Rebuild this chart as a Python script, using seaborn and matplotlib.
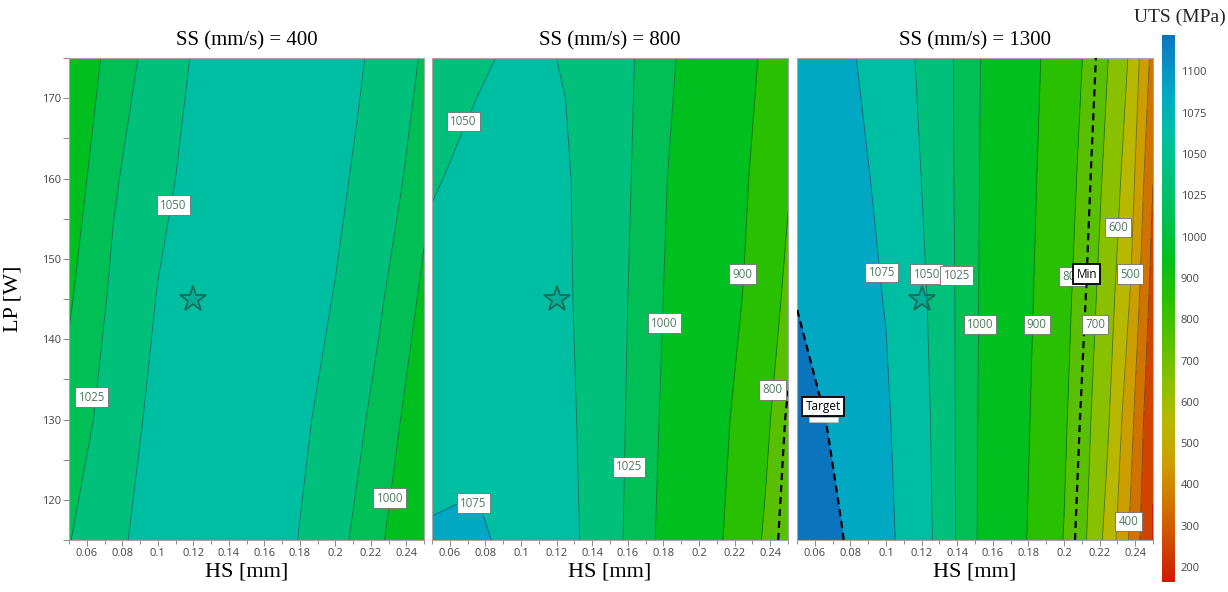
import numpy as np
import matplotlib
matplotlib.use("Agg")
import matplotlib.pyplot as plt
import matplotlib.colors as mcolors
from matplotlib.cm import ScalarMappable
from matplotlib.ticker import MultipleLocator, FormatStrFormatter, FixedLocator
from matplotlib.patches import Rectangle
import seaborn as sns

# ---------------------------------------------------------------- data
# hatch spacing HS [mm] (grid columns) and laser power LP [W] (grid rows)
hs = [0.05, 0.075, 0.1, 0.125, 0.15, 0.175, 0.2, 0.2125, 0.225, 0.2375, 0.25]
lp = [115, 130, 145, 160, 175]

scan_speeds = [400, 800, 1300]

# predicted UTS [MPa], one row per LP value
uts_ss400 = [
    [1024, 1045, 1060, 1066, 1063, 1053, 1033, 1020, 1004, 986, 967],
    [1009, 1038, 1056, 1065, 1065, 1058, 1041, 1030, 1017, 999, 980],
    [997, 1030, 1051, 1063, 1066, 1062, 1049, 1038, 1028, 1013, 994],
    [985, 1022, 1044, 1059, 1066, 1064, 1055, 1047, 1036, 1026, 1008],
    [975, 1010, 1037, 1055, 1065, 1066, 1060, 1053, 1044, 1034, 1022],
]
uts_ss800 = [
    [1077, 1078, 1069, 1057, 1035, 1001, 937, 904, 850, 788, 720],
    [1067, 1070, 1066, 1055, 1035, 1006, 948, 917, 874, 816, 740],
    [1058, 1062, 1060, 1053, 1035, 1010, 959, 929, 898, 840, 782],
    [1048, 1056, 1058, 1052, 1036, 1013, 968, 939, 911, 864, 807],
    [1038, 1047, 1054, 1049, 1036, 1016, 983, 950, 922, 888, 832],
]
uts_ss1300 = [
    [1117, 1101, 1081, 1052, 1004, 920, 797, 702, 561, 380, 185],
    [1111, 1094, 1078, 1050, 1005, 927, 813, 725, 606, 429, 206],
    [1099, 1087, 1074, 1048, 1006, 933, 827, 748, 641, 492, 256],
    [1097, 1086, 1069, 1045, 1007, 938, 840, 769, 671, 542, 302],
    [1092, 1081, 1063, 1043, 1008, 943, 853, 789, 699, 585, 364],
]

cbar_ticks = [200, 300, 400, 500, 600, 700, 800, 900, 1000, 1025, 1050, 1075, 1100]
uts_min_limit = 750      # "Min" constraint
uts_target = 1100        # "Target" value

# contour labels: (level, HS, LP)
labels_ss400 = [(1050, 0.1088, 156.7), (1025, 0.0628, 132.8), (1000, 0.2308, 120.2)]
labels_ss800 = [(1050, 0.0677, 167.1), (1075, 0.0733, 119.6), (1025, 0.1606, 124.1),
                (1000, 0.1804, 142.0), (900, 0.2245, 148.1), (800, 0.2414, 133.7)]
labels_ss1300 = [(1075, 0.0977, 148.3), (1050, 0.1229, 148.1), (1025, 0.1397, 147.9),
                 (1000, 0.1528, 141.8), (900, 0.1847, 141.8), (800, 0.2045, 147.8),
                 (700, 0.2174, 141.8), (600, 0.2305, 153.9), (500, 0.2371, 148.1),
                 (400, 0.2362, 117.3)]

star_point = (0.12, 145)

# ---------------------------------------------------------------- style
sns.set_theme(style="ticks")
plt.rcParams["font.family"] = ["Open Sans", "DejaVu Sans"]
SERIF = ["Liberation Serif", "DejaVu Serif"]

# piecewise-linear colour scale: equal room for each tick interval
knots = np.array([0, 200, 300, 400, 500, 600, 700, 800, 900, 1000,
                  1025, 1050, 1075, 1100, 1200], dtype=float)
slots = np.array([-2, 0, 1, 2, 3, 4, 5, 6, 7, 8, 9, 10, 11, 12, 16], dtype=float)


def fwd(x):
    return np.interp(np.asarray(x, dtype=float), knots, slots)


def inv(y):
    return np.interp(np.asarray(y, dtype=float), slots, knots)


VMIN, VMAX = 164, 1122
norm = mcolors.FuncNorm((fwd, inv), vmin=VMIN, vmax=VMAX)

anchor_vals = [VMIN, 175, 250, 350, 450, 550, 650, 750, 850, 950,
               1012.5, 1037.5, 1062.5, 1087.5, 1115, VMAX]
anchor_cols = ["#c81a00", "#cc2200", "#d04400", "#d07400", "#cc9e00", "#b8b800",
               "#88c000", "#58c000", "#28c000", "#00c020", "#00c055", "#00c07c",
               "#00bea2", "#00a8c4", "#0a80c0", "#0a74bc"]
f0, f1 = fwd(VMIN), fwd(VMAX)
cmap = mcolors.LinearSegmentedColormap.from_list(
    "uts", [((fwd(v) - f0) / (f1 - f0), c) for v, c in zip(anchor_vals, anchor_cols)], N=512)

fill_levels = [100] + cbar_ticks + [1200]
line_levels = [l for l in cbar_ticks if l not in (200, uts_target)]

W, H = 1228, 592
fig = plt.figure(figsize=(W / 100, H / 100), dpi=100)


def px_axes(x0, y0, x1, y1):
    return fig.add_axes([x0 / W, 1 - y1 / H, (x1 - x0) / W, (y1 - y0) / H])


axes = [px_axes(69, 58, 424, 540), px_axes(432, 58, 788, 540), px_axes(797, 58, 1153, 540)]

HS, LP = np.meshgrid(hs, lp)
grids = [np.array(uts_ss400, float), np.array(uts_ss800, float), np.array(uts_ss1300, float)]
all_labels = [labels_ss400, labels_ss800, labels_ss1300]

label_box = dict(boxstyle="square,pad=0.28", fc="white", ec="#6f6f6f", lw=0.6)
mark_box = dict(boxstyle="square,pad=0.28", fc="white", ec="black", lw=1.3)

for i, (ax, z, ss, labs) in enumerate(zip(axes, grids, scan_speeds, all_labels)):
    ax.contourf(HS, LP, z, levels=fill_levels, cmap=cmap, norm=norm, zorder=1)
    present = [l for l in line_levels if z.min() < l < z.max()]
    ax.contour(HS, LP, z, levels=present, colors="black", linewidths=0.6,
               alpha=0.4, zorder=2)
    for lvl in (uts_min_limit, uts_target):
        if z.min() < lvl < z.max():
            ax.contour(HS, LP, z, levels=[lvl], colors="black", linewidths=1.6,
                       linestyles=[(0, (3.2, 2.2))], zorder=3)

    ax.plot(*star_point, marker="*", ms=19, mfc=(0.05, 0.42, 0.38, 0.18),
            mec="#1d6b5c", mew=1.3, ls="none", zorder=4)

    for lvl, x, y in labs:
        ax.text(x, y, f"{lvl}", ha="center", va="center", fontsize=8.3,
                color="#4d7a5f", bbox=label_box, zorder=5)

    ax.set_xlim(0.05, 0.25)
    ax.set_ylim(115, 175)
    ax.xaxis.set_major_locator(FixedLocator([0.06, 0.08, 0.1, 0.12, 0.14, 0.16,
                                             0.18, 0.2, 0.22, 0.24]))
    ax.xaxis.set_major_formatter(FormatStrFormatter("%g"))
    ax.xaxis.set_minor_locator(MultipleLocator(0.01))
    ax.tick_params(axis="x", which="both", direction="out", color="#8a8a8a",
                   width=0.7, labelsize=8, labelcolor="#444444", pad=2)
    ax.tick_params(axis="x", which="major", length=4)
    ax.tick_params(axis="x", which="minor", length=3)
    ax.set_xlabel("HS [mm]", family=SERIF, fontsize=16, color="black", labelpad=2)
    ax.set_title(f"SS (mm/s) = {ss}", family=SERIF, fontsize=15, color="black", pad=9)

    if i == 0:
        ax.yaxis.set_major_locator(MultipleLocator(10))
        ax.yaxis.set_minor_locator(MultipleLocator(5))
        ax.tick_params(axis="y", which="both", direction="out", color="#8a8a8a",
                       width=0.7, length=4, labelsize=8, labelcolor="#444444", pad=2)
        ax.set_ylabel("LP [W]", family=SERIF, fontsize=16, color="black", labelpad=14)
    else:
        ax.set_yticks([])
        ax.tick_params(axis="y", which="both", left=False)

    for sp in ax.spines.values():
        sp.set_color("#a8a8a8")
        sp.set_linewidth(0.8)

# constraint labels in the last panel
ax3 = axes[2]
ax3.text(0.2128, 148.1, "Min", ha="center", va="center", fontsize=8.5,
         color="black", bbox=mark_box, zorder=6)
ax3.add_patch(Rectangle((0.0567, 129.7), 0.0162, 0.65, fc="white", ec="#bbbbbb",
                        lw=0.5, zorder=5))
ax3.text(0.0648, 131.6, "Target", ha="center", va="center", fontsize=8.5,
         color="black", bbox=mark_box, zorder=6)

# colour bar
cax = px_axes(1162, 35, 1175, 582)
sm = ScalarMappable(norm=norm, cmap=cmap)
cb = fig.colorbar(sm, cax=cax, ticks=cbar_ticks)
cb.outline.set_visible(False)
cb.ax.yaxis.set_major_formatter(FormatStrFormatter("%d"))
cb.ax.yaxis.set_minor_locator(FixedLocator([]))
cax.tick_params(length=0, labelsize=8, labelcolor="#444444", pad=4)
fig.text(1180 / W, 1 - 17 / H, "UTS (MPa)", family=SERIF, fontsize=14,
         ha="center", va="center")

fig.savefig("out.png", dpi=100)
